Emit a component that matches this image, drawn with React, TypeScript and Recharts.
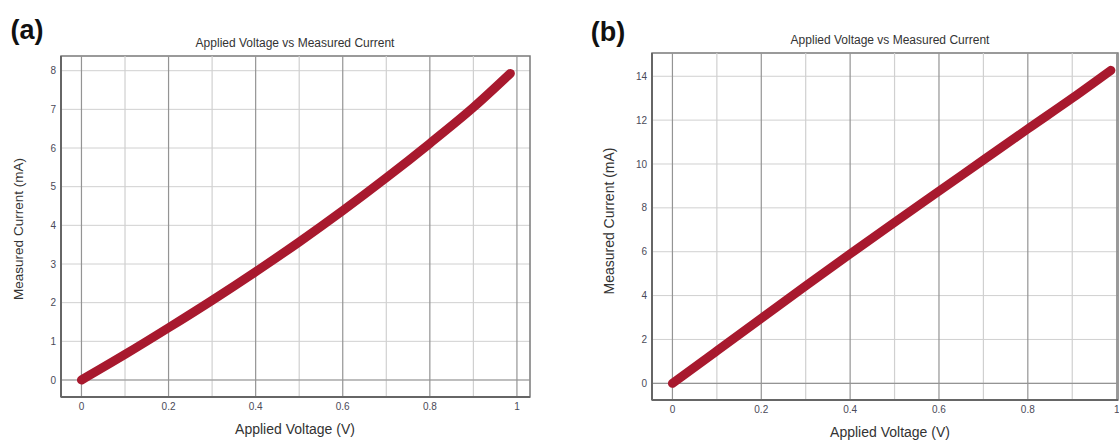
import React from "react";
import {
  LineChart,
  Line,
  XAxis,
  YAxis,
  CartesianGrid,
  ReferenceLine,
  ReferenceArea,
} from "recharts";

// panel (a)
const voltageA = [0, 0.1, 0.2, 0.3, 0.4, 0.5, 0.6, 0.7, 0.8, 0.9, 0.985];
const currentA = [0, 0.66, 1.35, 2.06, 2.8, 3.57, 4.38, 5.23, 6.12, 7.05, 7.93];
const yTicksA = [0, 1, 2, 3, 4, 5, 6, 7, 8];

// panel (b)
const voltageB = [0, 0.1, 0.2, 0.3, 0.4, 0.5, 0.6, 0.7, 0.8, 0.9, 0.987];
const currentB = [0, 1.48, 2.96, 4.44, 5.9, 7.34, 8.76, 10.18, 11.6, 13.0, 14.27];
const yTicksB = [0, 2, 4, 6, 8, 10, 12, 14];

const xMajor = [0, 0.2, 0.4, 0.6, 0.8, 1];
const xMinor = [0.1, 0.3, 0.5, 0.7, 0.9];

const TITLE = "Applied Voltage vs Measured Current";
const X_LABEL = "Applied Voltage (V)";
const Y_LABEL = "Measured Current (mA)";

const FONT = '"Liberation Sans", Arial, sans-serif';
const RED = "#a8192e";
const LIGHT = "#d0d0d0";
const DARK = "#949494";

interface PanelProps {
  volts: number[];
  amps: number[];
  yTicks: number[];
  xDomain: [number, number];
  yDomain: [number, number];
  width: number;
  height: number;
  margin: { top: number; right: number; left: number; bottom: number };
  yAxisWidth: number;
  xAxisHeight: number;
}

const Panel = ({
  volts,
  amps,
  yTicks,
  xDomain,
  yDomain,
  width,
  height,
  margin,
  yAxisWidth,
  xAxisHeight,
}: PanelProps) => {
  const data = volts.map((v, i) => ({ v, i: amps[i] }));
  const tickStyle = { fontSize: 10, fill: "#4a4a58", fontFamily: FONT };
  return (
    <LineChart width={width} height={height} data={data} margin={margin}>
      <CartesianGrid
        vertical={false}
        stroke={LIGHT}
        horizontalValues={yTicks}
      />
      {xMinor.map((x) => (
        <ReferenceLine key={`mi-${x}`} x={x} stroke={LIGHT} strokeWidth={1.2} />
      ))}
      {xMajor.map((x) => (
        <ReferenceLine key={`ma-${x}`} x={x} stroke={DARK} strokeWidth={1.2} />
      ))}
      <ReferenceLine y={0} stroke={DARK} strokeWidth={1.2} />
      <XAxis
        type="number"
        dataKey="v"
        domain={xDomain}
        allowDataOverflow
        ticks={xMajor}
        tickLine={false}
        tickSize={4}
        tickMargin={2}
        height={xAxisHeight}
        axisLine={{ stroke: "#666", strokeWidth: 2 }}
        tick={tickStyle}
        interval={0}
      />
      <YAxis
        type="number"
        domain={yDomain}
        allowDataOverflow
        ticks={yTicks}
        tickLine={false}
        tickSize={3}
        tickMargin={2}
        width={yAxisWidth}
        axisLine={{ stroke: "#666", strokeWidth: 2 }}
        tick={tickStyle}
        interval={0}
      />
      <ReferenceArea
        x1={xDomain[0]}
        x2={xDomain[1]}
        y1={yDomain[0]}
        y2={yDomain[1]}
        fill="none"
        stroke="#7a7a7a"
        strokeWidth={1.5}
        ifOverflow="visible"
      />
      <Line
        type="monotone"
        dataKey="i"
        stroke={RED}
        strokeWidth={9}
        strokeLinecap="round"
        dot={false}
        isAnimationActive={false}
      />
    </LineChart>
  );
};

const txt = (
  left: number,
  top: number,
  size: number,
  content: string,
  extra: React.CSSProperties = {}
) => (
  <div
    style={{
      position: "absolute",
      left,
      top,
      transform: "translate(-50%, -50%)",
      fontSize: size,
      fontFamily: FONT,
      color: "#333",
      whiteSpace: "nowrap",
      lineHeight: 1,
      ...extra,
    }}
  >
    {content}
  </div>
);

export default function App() {
  return (
    <div
      style={{
        position: "absolute",
        left: 0,
        top: 0,
        width: 1119,
        height: 441,
        background: "#fff",
        overflow: "hidden",
      }}
    >
      <div style={{ position: "absolute", left: 0, top: 0 }}>
        <Panel
          volts={voltageA}
          amps={currentA}
          yTicks={yTicksA}
          xDomain={[-0.047, 1.03]}
          yDomain={[-0.44, 8.38]}
          width={560}
          height={441}
          margin={{ top: 56, right: 30, left: 0, bottom: 0 }}
          yAxisWidth={61}
          xAxisHeight={44}
        />
      </div>
      <div style={{ position: "absolute", left: 560, top: 0 }}>
        <Panel
          volts={voltageB}
          amps={currentB}
          yTicks={yTicksB}
          xDomain={[-0.046, 1.003]}
          yDomain={[-0.76, 15.06]}
          width={559}
          height={441}
          margin={{ top: 53, right: 1, left: 0, bottom: 0 }}
          yAxisWidth={92}
          xAxisHeight={41}
        />
      </div>

      {txt(27, 30, 27, "(a)", { fontWeight: "bold", color: "#111" })}
      {txt(608, 32, 27, "(b)", { fontWeight: "bold", color: "#111" })}

      {txt(295, 43, 12, TITLE)}
      {txt(890, 40, 12, TITLE)}

      {txt(295, 429, 14, X_LABEL)}
      {txt(890, 432, 14, X_LABEL)}

      {txt(19, 229, 13.5, Y_LABEL, {
        transform: "translate(-50%, -50%) rotate(-90deg)",
      })}
      {txt(609, 221, 14, Y_LABEL, {
        transform: "translate(-50%, -50%) rotate(-90deg)",
      })}
    </div>
  );
}
